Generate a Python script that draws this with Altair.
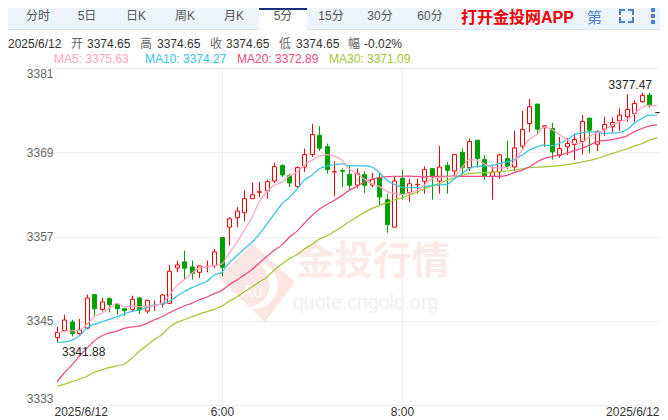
import altair as alt
import pandas as pd

# ---- OHLC (5-minute candles, index 0..80) ----
opens = [3342.62,3343.57,3344.81,3343.19,3343.95,3348.71,3346.62,3348.14,3347.33,3346.71,3346.62,3348.24,3346.38,3347.14,3347.38,3347.48,3352.52,3353.38,3352.67,3351.9,3352.7,3352.86,3356.86,
 3358.33,3359.67,3360.38,3362.38,3363.29,3363.52,3364.9,3367.1,3365.67,3364.14,3366.9,3368.67,3371.43,3369.81,3366.2,3366.4,3365.86,3364.33,3365.81,3364.33,3365.38,3362.24,3358.33,3365.29,3363.24,3364.4,3364.86,
 3366.67,3364.9,3367.1,3366.33,3369,3366.81,3370.71,3367.95,3365.57,3366.19,3368.1,3366.9,3369.86,3373.1,3375.86,3372.48,3372.38,3368.57,3369.76,3370.1,3370.52,3373.86,3370.14,3372.29,3372.62,3373.48,3374.05,3374.52,3376.19,3377.14,3374.65]
closes = [3343.33,3345.1,3343.19,3343.67,3348.24,3346.71,3347.67,3347.29,3346.71,3346.43,3348.05,3346.52,3347.9,3347.19,3348.67,3352.05,3352.95,3352.48,3351.76,3352.81,3352.76,3354.81,3352.62,
 3359.52,3360.62,3362.38,3362.95,3363.38,3364.81,3366.95,3365.76,3364.62,3366.81,3368.67,3371.52,3369.57,3366.52,3366.24,3366.3,3364.29,3365.95,3364.29,3365.1,3362.62,3358.71,3364.9,3363,3364.52,3364.43,3366.52,
 3365.48,3366.9,3366.43,3368.67,3366.81,3370.52,3368.1,3365.57,3366.19,3368.62,3367,3369.62,3372.24,3375.48,3372.29,3372.76,3369.05,3369.52,3370.24,3370.81,3373.38,3372.14,3371.9,3372.95,3373.24,3374.29,3375.1,3375.95,3377.1,3375.62,3374.65]
highs = [3344.14,3345.86,3345.14,3345.24,3348.71,3348.81,3348.24,3348.33,3347.52,3346.81,3348.57,3348.38,3348,3347.86,3348.81,3352.95,3353.57,3355,3353.57,3352.9,3353.57,3355.24,3356.86,
 3359.76,3361.19,3363.57,3364.67,3364.76,3365.1,3367.52,3367.29,3365.95,3367,3369.52,3373.05,3372.71,3370.24,3367.71,3366.67,3367,3366.67,3366.29,3366.05,3366.19,3363.1,3365.48,3366.52,3365.24,3365.24,3367,
 3366.67,3369.9,3367.62,3368.71,3369.52,3370.95,3370.71,3368.57,3367,3368.81,3370.62,3372.05,3374.9,3376.57,3375.86,3372.86,3373.19,3371.19,3371.05,3371.67,3374.29,3373.9,3372.14,3374.05,3373.95,3375.24,3377.24,3376.43,3377.47,3377.47,3374.65]
lows = [3341.88,3343.48,3342.76,3343,3343.81,3345.71,3346.33,3346.19,3345.86,3345.71,3346.33,3345.95,3346.05,3346.43,3346.9,3347.38,3351.9,3350.81,3350.86,3351.1,3351.9,3352.48,3351.29,
 3355.71,3358.33,3359.19,3362.38,3362.62,3362.38,3364.62,3365.48,3364.05,3363.81,3366.19,3368.33,3369.19,3365.95,3362.71,3364.05,3363.67,3363.95,3363.19,3364.05,3361.33,3357.52,3358.33,3362.24,3361.9,3363.1,3363.1,
 3362.24,3363.1,3363.1,3365.48,3366.05,3366.33,3366.81,3365.1,3362.24,3365.24,3366.57,3366.33,3369.48,3371.9,3371.52,3369.76,3367.95,3368.24,3368.62,3367.86,3368.71,3368.9,3369.19,3371.29,3371.76,3372.05,3373.33,3373.33,3376.05,3375.38,3374.65]

# ---- moving averages ----
ma5 = [3343.19,3343.48,3343.57,3343.62,3344.5,3345.57,3346.05,3346.8,3347.48,3347,3347.1,3347,3347,3347.14,3347.48,3348.57,3350,3350.81,3351.76,3352.52,3352.71,3352.81,3353.1,3354.6,
 3356.19,3357.86,3359.67,3361.9,3363.33,3364.29,3364.76,3365.57,3366.19,3367.14,3367.86,3368.43,3368.67,3368.48,3367.86,3366.67,3365.95,3365.24,3364.52,3364.14,3363.43,3363.1,3363,3363.19,3363.57,3364.29,
 3365.24,3365.43,3365.48,3365.57,3366.81,3367.95,3367.86,3367.38,3366.81,3366.76,3366.81,3367.62,3369.29,3370.81,3371.52,3372.62,3372.24,3371.57,3370.81,3370.24,3370.33,3371.19,3371.76,3372.14,3372.86,3373.33,3373.67,3374.43,3375.38,3375.67,3375.63]
ma10 = [3341.95,3341.95,3342.24,3342.81,3343.95,3344.48,3344.86,3345.19,3345.57,3345.95,3346.38,3346.52,3346.86,3347.24,3347.38,3347.76,3348.52,3349.14,3349.71,3350.14,3350.62,3351.48,3351.95,3353.19,3354.29,
 3355.19,3356.19,3357.29,3358.81,3360.14,3361.67,3362.52,3363.76,3365,3365.71,3366.62,3367.05,3367.24,3367.33,3367.1,3367.05,3367.05,3366.9,3366.14,3365,3364.43,3364.05,3363.95,3363.95,3364.05,
 3364.29,3364.33,3364.43,3365.19,3365.95,3366.67,3367,3367.05,3367.14,3367.38,3367.62,3367.95,3368.57,3369.29,3369.76,3370,3369.95,3370.24,3370.81,3371.43,3371.76,3371.9,3371.86,3371.67,3371.76,3371.81,3372.24,3373.1,3373.81,3374.29,3374.27]
ma20 = [3336.29,3337.52,3338.71,3339.9,3341.1,3342.1,3342.86,3343.24,3343.52,3343.9,3344.14,3344.24,3344.62,3345.1,3345.57,3346.1,3346.67,3347.1,3347.52,3347.95,3348.38,3348.86,3349.33,3350.1,3350.81,
 3351.5,3352.3,3353.2,3354.2,3355,3355.81,3356.86,3357.76,3358.81,3360,3360.86,3361.57,3362.14,3362.86,3363.57,3364.14,3364.76,3365.14,3365.38,3365.52,3365.57,3365.57,3365.6,3365.55,3365.5,
 3365.57,3365.57,3365.57,3365.62,3365.57,3365.57,3365.57,3365.57,3365.57,3365.57,3365.71,3366.1,3366.43,3366.9,3367.62,3368.1,3368.38,3368.62,3368.86,3369.19,3369.57,3370,3370.48,3370.67,3370.81,3371,3371.33,3371.9,3372.38,3372.71,3372.89]
ma30 = [3335.67,3335.95,3336.33,3336.67,3337.1,3337.67,3338,3338.33,3338.57,3338.81,3339.67,3340.62,3341.48,3342.29,3343.05,3344.05,3344.76,3345.14,3345.57,3345.95,3346.29,3346.62,3347.1,3347.76,3348.38,
 3349.1,3349.8,3350.5,3351.2,3352.2,3353.1,3353.8,3354.4,3355.2,3355.9,3356.6,3357.1,3357.7,3358.4,3359.1,3359.8,3360.4,3361,3361.4,3361.8,3362.2,3362.5,3362.9,3363.3,3363.8,
 3364.19,3364.52,3365,3365.33,3365.71,3365.95,3366.05,3366.1,3366.14,3366.24,3366.33,3366.48,3366.62,3366.81,3366.86,3366.9,3367,3367.1,3367.24,3367.38,3367.62,3367.81,3368.1,3368.43,3368.81,3369.14,3369.48,3369.86,3370.24,3370.71,3371.09]

# ---- labels ----
y_ticks = [3333, 3345, 3357, 3369, 3381]
x_grid = [22, 46]
tabs = ["分时", "5日", "日K", "周K", "月K", "5分", "15分", "30分", "60分"]
info = ["2025/6/12", "开", "3374.65", "高", "3374.65", "收", "3374.65", "低", "3374.65", "幅", "-0.02%"]
ma_legend = ["MA5: 3375.63", "MA10: 3374.27", "MA20: 3372.89", "MA30: 3371.09"]
ma_colors = ["#fda5c2", "#35c5e0", "#ef4b80", "#a3c636"]

FONT = "Liberation Sans, Noto Sans CJK SC"
X0, Y0 = 54, 68          # page position of plot origin
PW, PH = 605, 337
one = pd.DataFrame({"a": [0]})
XD = [-0.4, 80.27]
x_label_expr = "datum.value == 22 ? '6:00' : datum.value == 46 ? '8:00' : '2025/6/12'"


def T(s, x, y, size=12, color="#444", align="left", weight="normal", font=FONT, baseline="middle"):
    return alt.Chart(one).mark_text(text=s, fontSize=size, color=color, align=align, baseline=baseline,
                                    fontWeight=weight, font=font).encode(
        x=alt.value(x - X0), y=alt.value(y - Y0))


def R(x1, x2, y1, y2, color):
    return alt.Chart(one).mark_rect(color=color).encode(
        x=alt.value(x1 - X0), x2=alt.value(x2 - X0), y=alt.value(y1 - Y0), y2=alt.value(y2 - Y0))


xs = alt.Scale(domain=XD, nice=False, zero=False, padding=0, round=True)
ys = alt.Scale(domain=[3333, 3381], nice=False, zero=False, padding=0)
yaxis = alt.Axis(values=y_ticks, labelFlush=True, domain=False, ticks=False, grid=True, title=None,
                 gridColor="#eeeeee", labelColor="#666", labelFont=FONT, labelFontSize=12,
                 labelPadding=1, format="d")
xaxis = alt.Axis(values=[XD[0], 22, 46, XD[1]], labelFlush=True, domainColor="#eeeeee", ticks=False, grid=False,
                 title=None, labelExpr=x_label_expr, labelColor="#333", labelFont=FONT, labelFontSize=12,
                 labelPadding=1, labelOverlap=False)


def XE(f):
    return alt.X(f, scale=xs, axis=xaxis)


def YE(f):
    return alt.Y(f, scale=ys, axis=yaxis)


layers = []

# chrome
layers.append(R(0, 668, 0, 29, "#eef4fc"))
layers.append(R(0, 668, 29, 30, "#dde5f0"))
layers.append(R(259, 307, 8, 30, "#ffffff"))
layers.append(R(259, 307, 8, 10, "#1a2f80"))
for s, cx in zip(tabs, [38, 87, 136, 185, 234, 283, 331, 380, 430]):
    layers.append(T(s, cx, 16, size=12, color="#555", align="center"))
layers.append(T("打开金投网APP", 461, 18, size=16, color="#f00000", weight="bold"))
layers.append(T("第", 587, 18, size=15, color="#4a7fc9"))
for (a, b, c, d) in [(619, 625, 9, 11), (619, 621, 9, 15), (628, 634, 9, 11), (632, 634, 9, 15),
                     (619, 625, 21, 23), (619, 621, 17, 23), (628, 634, 21, 23), (632, 634, 17, 23)]:
    layers.append(R(a, b, c, d, "#4a7fc9"))
for c in [10, 16, 22]:
    layers.append(R(651, 655, c - 2, c + 2, "#4a7fc9"))
for s, x in zip(info, [8, 71, 87, 140, 157, 210, 226, 279, 296, 348, 364]):
    col = "#666" if len(s) == 1 else "#333"
    layers.append(T(s, x, 44, size=12, color=col))
for s, x, c in zip(ma_legend, [54, 145, 237, 329], ma_colors):
    layers.append(T(s, x, 59, size=12, color=c))

# grid
vgrid = alt.Chart(pd.DataFrame({"x": x_grid})).mark_rule(color="#eeeeee", xOffset=0.5).encode(x=XE("x:Q"))
layers.append(vgrid)

# watermark
diamond = "M-0.1,-0.975L0.95,-0.025L0.2,0.975L-0.975,-0.15Z"
swirl = "M-0.09,-0.62C0.49,-0.45,0.66,0.05,0.41,0.38C0.2,0.68,-0.09,0.68,-0.3,0.63C0.1,0.58,0.4,0.3,0.3,-0.05C0.27,-0.3,0.1,-0.5,-0.09,-0.62Z"
for shape, col in [(diamond, "#fae6e2"), (swirl, "#ffffff")]:
    layers.append(alt.Chart(one).mark_point(shape=shape, filled=True, size=6400, color=col, opacity=1).encode(
        x=alt.value(257 - X0), y=alt.value(283 - Y0)))
layers.append(T("Au", 252, 292, size=17, color="#ffffff", align="center"))
layers.append(T("金投行情", 296, 262, size=38.5, color="#faebe8", font="Noto Sans CJK SC", weight="bold"))
layers.append(T("quote.cngold.org", 293, 303, size=19.5, color="#f0f0f0"))

# candles
idx = list(range(len(opens)))
kind = ["flat" if c == o else ("up" if c > o else "down") for o, c in zip(opens, closes)]
kdf = pd.DataFrame({"i": idx, "o": opens, "c": closes, "h": highs, "l": lows, "k": kind})
stroke_scale = alt.Scale(domain=["up", "down", "flat"], range=["#f40000", "#009f00", "#222222"])
fill_scale = alt.Scale(domain=["up", "down", "flat"], range=["#ffffff", "#009f00", "#222222"])
wick = alt.Chart(kdf).mark_rule(strokeWidth=1, xOffset=0.5).encode(
    x=XE("i:Q"), y=YE("l:Q"), y2="h:Q",
    color=alt.Color("k:N", scale=stroke_scale, legend=None))
body = alt.Chart(kdf).mark_bar(size=4, strokeWidth=1, xOffset=0.5).encode(
    x=XE("i:Q"), y=YE("o:Q"), y2="c:Q",
    fill=alt.Fill("k:N", scale=fill_scale, legend=None),
    stroke=alt.Stroke("k:N", scale=stroke_scale, legend=None))
layers += [wick, body]

# MA lines
for vals, col in zip([ma30, ma20, ma10, ma5], ma_colors[::-1]):
    d = pd.DataFrame({"i": idx, "v": vals})
    layers.append(alt.Chart(d).mark_line(color=col, strokeWidth=1.25, interpolate="monotone").encode(
        x=XE("i:Q"), y=YE("v:Q")))

# extreme labels
ext = pd.DataFrame({"i": [0], "v": [min(lows)]})
layers.append(alt.Chart(ext).mark_text(align="left", dx=5, dy=9, fontSize=12, color="#222", font=FONT).encode(
    x=XE("i:Q"), y=YE("v:Q"), text=alt.Text("v:Q", format=".2f")))
ext2 = pd.DataFrame({"i": [79], "v": [max(highs)]})
layers.append(alt.Chart(ext2).mark_text(align="right", dx=3, dy=-8, fontSize=12, color="#222", font=FONT).encode(
    x=XE("i:Q"), y=YE("v:Q"), text=alt.Text("v:Q", format=".2f")))

chart = alt.layer(*layers).properties(
    width=PW, height=PH,
    autosize=alt.AutoSizeParams(type="none"),
    padding={"left": 46, "top": 60, "right": 1, "bottom": 13},
).configure_view(stroke=None)

chart.save("out.html", embed_options={"renderer": "svg", "actions": False})
